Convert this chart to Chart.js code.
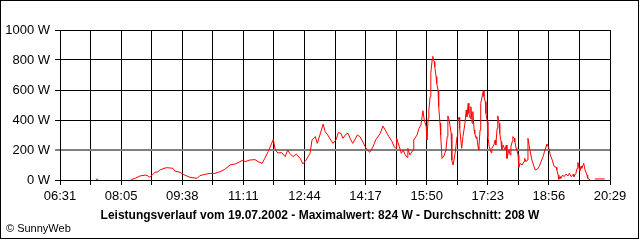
<!DOCTYPE html>
<html>
<head>
<meta charset="utf-8">
<style>
  html, body { margin: 0; padding: 0; background: #fff; }
  canvas { display: block; }
</style>
<script src="https://cdn.jsdelivr.net/npm/chart.js@4/dist/chart.umd.min.js"></script>
</head>
<body>
<canvas id="chart" width="640" height="240"></canvas>
<script>
// minutes after 06:31, power in W (null = no line)
const minutes = [
  55, 58, 80, 108, 114, 122, 130, 134, 137, 140, 145, 149, 152, 157, 162,
  168, 172, 175, 183, 190, 198, 209, 213, 221, 229, 236, 244, 251, 259, 267,
  274, 279, 282, 289, 297, 302, 308, 312, 317, 320, 325, 328, 332, 338, 343,
  347, 350, 355, 360, 366, 370, 375, 381, 384, 389, 392, 396, 401, 404, 408,
  411, 416, 421, 424, 428, 431, 436, 439, 442, 446, 449, 453, 457, 460, 465,
  468, 472, 477, 481, 488, 492, 497, 501, 506, 509, 512, 513, 517, 520, 523,
  526, 529, 530, 533, 538, 539, 544, 547, 550, 553, 555, 558, 559, 561, 562,
  564, 565, 567, 568, 570, 571, 573, 574, 576, 577, 579, 580, 582, 585, 588,
  590, 591, 593, 596, 597, 599, 602, 605, 606, 608, 609, 612, 614, 617, 619,
  620, 622, 623, 625, 626, 628, 629, 631, 632, 634, 635, 637, 638, 640, 641,
  645, 646, 648, 649, 651, 652, 654, 657, 658, 661, 663, 664, 666, 667, 669,
  670, 672, 673, 675, 678, 680, 681, 684, 686, 687, 689, 690, 692, 693, 695,
  696, 698, 699, 701, 704, 707, 708, 710, 712, 713, 716, 719, 724, 727, 730,
  733, 736, 739, 742, 745, 747, 750, 753, 756, 757, 759, 760, 762, 763, 766,
  768, 771, 774, 776, 779, 782, 783, 786, 788, 789, 791, 792, 794, 795, 798,
  800, 803, 804, 808, 812, 815, 830
];
const watts = [
  5, 5, null, 3, 10, 27, 33, 27, 18, 31, 53, 53, 67, 75, 82,
  80, 78, 60, 51, 33, 18, 11, 29, 38, 44, 44, 56, 71, 100, 107,
  122, 133, 122, 133, 136, 122, 111, 144, 189, 218, 271, 200, 180, 182, 156,
  200, 178, 156, 173, 144, 107, 133, 178, 267, 289, 244, 300, 373, 322, 300,
  278, 244, 271, 316, 311, 278, 307, 311, 278, 244, 267, 300, 289, 267, 222,
  200, 185, 222, 267, 311, 360, 322, 289, 256, 222, 211, 278, 222, 178, 200,
  167, 151, 211, 167, 200, 267, 300, 344, 367, 462, 400, 356, 267, 411, 467,
  556, 711, 800, 824, 789, 756, 689, 644, 600, 489, 378, 300, 144, 160, 200,
  289, 427, 400, 311, 133, 100, 178, 289, 400, 418, 344, 211, 289, 378, 467,
  422, 511, 444, 411, 489, 378, 456, 333, 311, 278, 289, 222, 200, 333, 511,
  595, 556, 522, 444, 389, 289, 222, 182, 211, 233, 267, 233, 344, 427, 378,
  311, 256, 200, 233, 200, 233, 144, 200, 167, 222, 256, 289, 278, 256, 211,
  200, 167, 84, 111, 100, 122, 144, 122, 133, 278, 200, 133, 67, 71, 89,
  122, 156, 200, 240, 211, 167, 133, 89, 85, 67, 33, 5, 22, 11, 33,
  22, 40, 27, 44, 22, 38, 22, 44, 78, 116, 78, 60, 93, 78, 111,
  67, 33, 11, 0, null, 7, 7
];
const tickLabels = ['06:31', '08:05', '09:38', '11:11', '12:44', '14:17', '15:50', '17:23', '18:56', '20:29'];
const span = 838; // 06:31 .. 20:29
const title = 'Leistungsverlauf vom 19.07.2002 - Maximalwert: 824 W - Durchschnitt: 208 W';
const credit = '\u00A9 SunnyWeb';

const axisFont = { family: '"Liberation Sans Narrow", "Liberation Sans", Arial', size: 13 };

const framePlugin = {
  id: 'frame',
  afterDraw(chart) {
    const c = chart.ctx;
    c.save();
    c.strokeStyle = '#000';
    c.lineWidth = 1;
    c.strokeRect(0.5, 0.5, 638, 238);
    c.fillStyle = '#000';
    c.textBaseline = 'middle';
    c.textAlign = 'center';
    c.font = 'bold 12px "Liberation Sans", Arial';
    c.fillText(title, 320, 216);
    c.textAlign = 'left';
    c.font = '11px "Liberation Sans", Arial';
    c.fillText(credit, 6, 229);
    c.restore();
  },
};

const ctx = document.getElementById('chart').getContext('2d');
// eslint-disable-next-line no-unused-vars
const powerChart = new Chart(ctx, {
  type: 'line',
  data: {
    datasets: [{
      data: minutes.map((m, i) => ({ x: m, y: watts[i] })),
      borderColor: '#ff0000',
      borderWidth: 1,
      pointRadius: 0,
      tension: 0,
      spanGaps: false,
    }],
  },
  options: {
    responsive: false,
    animation: false,
    events: [],
    layout: { padding: { top: 30, right: 30, left: 0, bottom: 0 } },
    plugins: {
      legend: { display: false },
      tooltip: { enabled: false },
    },
    scales: {
      x: {
        type: 'linear',
        min: 0,
        max: span,
        afterBuildTicks(scale) {
          const ticks = [];
          for (let i = 0; i <= 18; i += 1) ticks.push({ value: (span * i) / 18 });
          scale.ticks = ticks;
        },
        afterFit(scale) { scale.height = 60; },
        grid: { color: '#000', lineWidth: 1, tickLength: 5, tickColor: '#000' },
        border: { color: '#000' },
        ticks: {
          autoSkip: false,
          maxRotation: 0,
          color: '#000',
          font: axisFont,
          padding: 4,
          callback: (v, i) => (i % 2 === 0 ? tickLabels[i / 2] : ''),
        },
      },
      y: {
        min: 0,
        max: 1000,
        afterFit(scale) { scale.width = 60; },
        grid: {
          color: (c) => (c.tick && c.tick.value === 200 ? '#808080' : '#000'),
          lineWidth: (c) => (c.tick && c.tick.value === 200 ? 2 : 1),
          tickLength: 5,
        },
        border: { color: '#000' },
        ticks: {
          stepSize: 200,
          color: '#000',
          font: axisFont,
          padding: 5,
          callback: (v) => `${v} W`,
        },
      },
    },
  },
  plugins: [framePlugin],
});
</script>
</body>
</html>
